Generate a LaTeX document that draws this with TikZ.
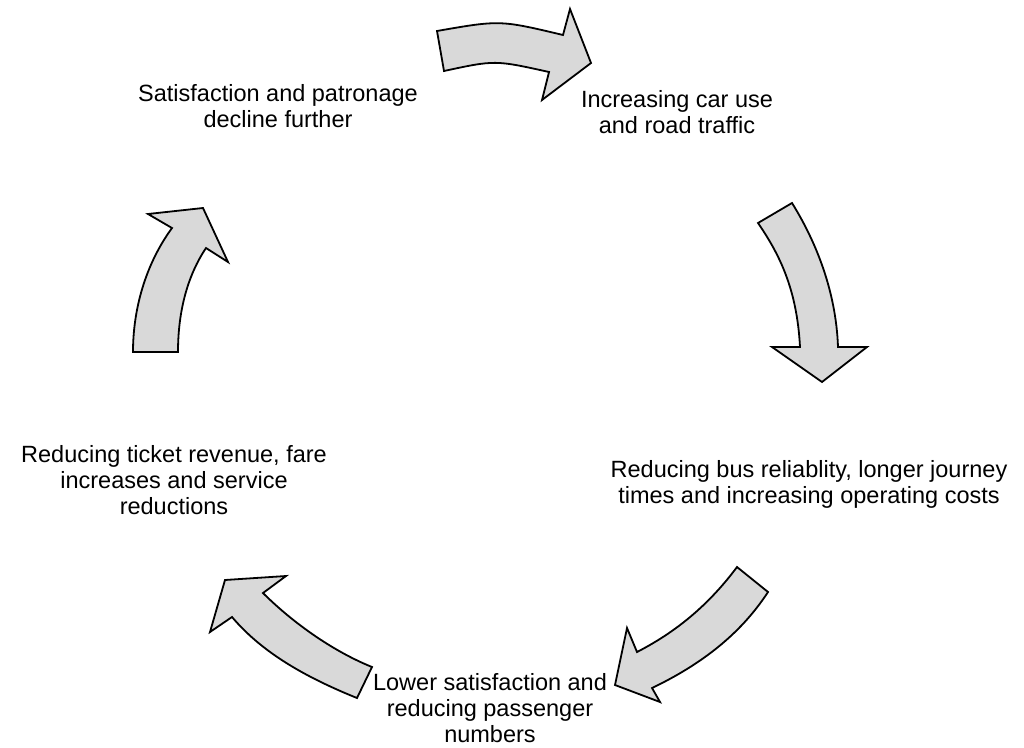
\documentclass[tikz,border=0pt]{standalone}
\usepackage{fontspec}
\setmainfont{Liberation Sans}
\tikzset{
  blockarrow/.style={fill=black!15, draw=black, line width=1.8pt, line join=miter},
  label/.style={font=\fontsize{23.5}{26}\selectfont, align=center, anchor=base, inner sep=0pt}
}
\begin{document}
\begin{tikzpicture}[x=1pt, y=-1pt]
\useasboundingbox (0,0) rectangle (1024,747);

% stage labels around the cycle (anchored at the baseline of the last line)
\node[label] (satisf) at (278,127) {Satisfaction and patronage\\decline further};
\node[label] (caruse) at (677,133) {Increasing car use\\and road traffic};
\node[label] (bus)    at (809,503) {Reducing bus reliablity, longer journey\\times and increasing operating costs};
\node[label] (lower)  at (490,742) {Lower satisfaction and\\reducing passenger\\numbers};
\node[label] (ticket) at (174,514) {Reducing ticket revenue, fare\\increases and service\\reductions};

% top arrow, pointing right
\draw[blockarrow] (437,31) .. controls (500,20) .. (563,35)
  -- (570,9) -- (591,63) -- (542,100) -- (549,72)
  .. controls (495,60) .. (444,71) -- cycle;

% right arrow, pointing down
\draw[blockarrow] (792,203) .. controls (815,240) and (836,290) .. (838,347)
  -- (867,347) -- (822,382) -- (772,347) -- (800,347)
  .. controls (797,290) and (780,255) .. (758,223) -- cycle;

% lower right arrow, pointing down-left
\draw[blockarrow] (737,567) .. controls (705,610) and (670,635) .. (637,652)
  -- (627,628) -- (615,685) -- (660,702) -- (652,688)
  .. controls (700,665) and (740,635) .. (768,592) -- cycle;

% lower left arrow, pointing up-left
\draw[blockarrow] (357,698) .. controls (300,675) and (260,650) .. (232,617)
  -- (210,632) -- (225,580) -- (286,576) -- (263,593)
  .. controls (290,620) and (330,650) .. (372,667) -- cycle;

% left arrow, pointing up
\draw[blockarrow] (178,352) .. controls (178,310) and (188,275) .. (206,248)
  -- (228,262) -- (203,208) -- (148,214) -- (172,228)
  .. controls (145,265) and (133,310) .. (133,352) -- cycle;
\end{tikzpicture}
\end{document}
